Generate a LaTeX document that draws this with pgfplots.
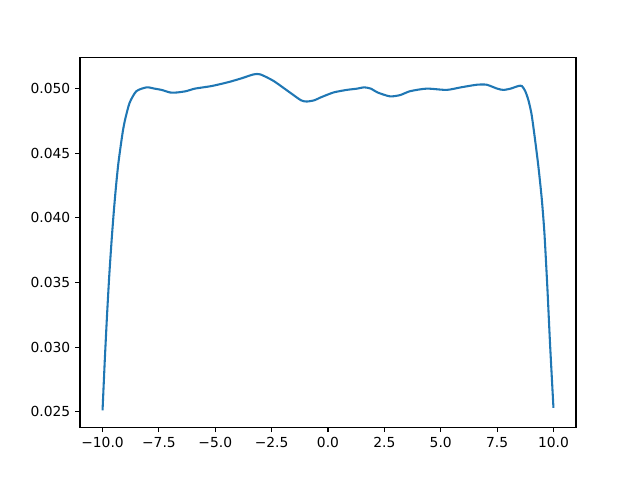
\documentclass[border=0pt]{standalone}
\usepackage{pgfplots}
\pgfplotsset{compat=1.18}
\usepackage{fontspec}
\setmainfont{DejaVu Sans}
\definecolor{tabblue}{HTML}{1F77B4}
\begin{document}
\begin{tikzpicture}
\path (-0.8in,-0.528in) rectangle (5.6in,4.272in);
\begin{axis}[
  at={(0,0)}, anchor=south west,
  scale only axis, width=4.96in, height=3.696in,
  xmin=-11, xmax=11, ymin=0.0238, ymax=0.0524,
  axis line style={line width=0.8pt},
  tick style={black, line width=0.8pt},
  tick align=outside, major tick length=3.5pt,
  xtick={-10,-7.5,-5,-2.5,0,2.5,5,7.5,10},
  xticklabels={−10.0,−7.5,−5.0,−2.5,0.0,2.5,5.0,7.5,10.0},
  ytick={0.025,0.030,0.035,0.040,0.045,0.050},
  yticklabels={0.025,0.030,0.035,0.040,0.045,0.050},
  scaled y ticks=false,
  xtick pos=bottom, ytick pos=left,
  ticklabel style={font=\fontsize{10}{12}\selectfont},
  /pgf/number format/assume math mode=true,
]
\addplot[color=tabblue, line width=1.5pt, smooth, tension=0.4] coordinates {
(-10,0.0251) (-9.9,0.0290) (-9.8,0.0325) (-9.7,0.0356) (-9.6,0.0382)
(-9.5,0.0405) (-9.4,0.0425) (-9.3,0.0442) (-9.2,0.0455) (-9.1,0.0467)
(-9.0,0.0476) (-8.8,0.0489) (-8.5,0.0498) (-8.04,0.0501) (-7.7,0.0500)
(-7.38,0.0499) (-7.0,0.0497) (-6.71,0.0497) (-6.3,0.0498) (-5.90,0.0500)
(-5.16,0.0502) (-4.42,0.0505) (-3.83,0.0508) (-3.3,0.0511) (-3.0,0.0511)
(-2.42,0.0506) (-1.69,0.0497) (-1.2,0.0491) (-0.94,0.0490) (-0.6,0.0491)
(-0.35,0.0493) (0.24,0.0497) (0.83,0.0499) (1.3,0.0500) (1.6,0.0501)
(1.9,0.0500) (2.2,0.0497) (2.75,0.0494) (3.2,0.0495) (3.64,0.0498)
(4.38,0.0500) (5.26,0.0499) (5.9,0.0501) (6.6,0.0503) (7.04,0.0503)
(7.5,0.0500) (7.78,0.0499) (8.1,0.0500) (8.44,0.0502) (8.6,0.0502)
(8.75,0.0498) (8.89,0.0491) (9.03,0.0480) (9.18,0.0461) (9.33,0.0440)
(9.48,0.0415) (9.6,0.0388) (9.73,0.0346) (9.85,0.0302) (10,0.0253)
};
\end{axis}
\end{tikzpicture}
\end{document}
